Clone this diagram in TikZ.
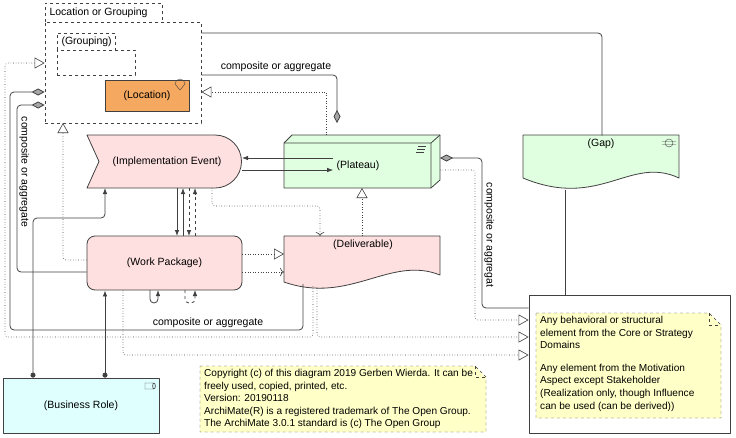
\documentclass[tikz,border=0pt]{standalone}
\usepackage{fontspec}
\setmainfont{Liberation Sans}
\usetikzlibrary{arrows.meta}
\definecolor{impl}{HTML}{FFE0E0}
\definecolor{plat}{HTML}{E0FFE0}
\definecolor{role}{HTML}{DFFFFF}
\definecolor{locc}{HTML}{F5A85F}
\definecolor{notec}{HTML}{FFFFC8}
\definecolor{linec}{HTML}{404040}
\tikzset{
  elem/.style={draw=linec, thick, font=\fontsize{10.5}{12}\selectfont},
  txt/.style={font=\fontsize{10.5}{12}\selectfont},
  real/.style={draw=linec, semithick, dotted, -{Triangle[open,length=10pt,width=11pt]}},
  comp/.style={draw=linec, thick, rounded corners=4pt, {Diamond[fill=gray!70,length=13pt,width=7pt]}-},
  trig/.style={draw=linec, thick, -{Latex[length=6pt]}},
  flow/.style={draw=linec, thick, dashed, -{Latex[length=6pt]}},
  acc/.style={draw=linec, semithick, dotted, -{To[length=4pt]}},
  assn/.style={draw=linec, thick, {Circle[length=5pt]}-{Latex[length=6pt]}},
  note/.style={draw=linec, dashed, fill=notec},
  lbl/.style={font=\fontsize{10.5}{12}\selectfont},
  ntxt/.style={font=\fontsize{10.1}{12.6}\selectfont}
}
\begin{document}
\begin{tikzpicture}[x=1pt, y=-1pt, line join=round]
\useasboundingbox (0,0) rectangle (736,437);
% grouping
\draw[linec, dashed] (45,22) -- (45,3) -- (162,3) -- (162,22);
\node[elem, dashed, minimum width=156pt, minimum height=101pt, inner sep=0pt] (grp) at (123,72.5) {};
\node[txt, anchor=west] at (46,12.5) {Location or Grouping};
\draw[linec, dashed] (57,50) -- (57,33) -- (115,33) -- (115,50);
\node[elem, dashed, minimum width=78pt, minimum height=25pt, inner sep=0pt] (sub) at (96,62.5) {};
\node[txt, anchor=west] at (58,41.5) {(Grouping)};
\node[elem, fill=locc, minimum width=84pt, minimum height=31pt, inner sep=0pt] (loc) at (147,95.5) {(Location)};
\draw[linec] (180,90) -- (175,84) arc (180:360:5) -- cycle;
% implementation event
\draw[linec, thick, fill=impl] (87,135) -- (215,135) arc (-90:90:26.5) -- (87,188) -- (99,161.5) -- cycle;
\node[txt] (ie) at (167,161.5) {(Implementation Event)};
% plateau
\draw[linec, thick, fill=plat] (284,143) -- (292,135) -- (440,135) -- (440,180) -- (431,188) -- (284,188) -- cycle;
\draw[linec, thick] (284,143) -- (431,143) -- (440,135) (431,143) -- (431,188);
\node[txt] (pl) at (358,165.5) {(Plateau)};
\draw[linec] (418,146) -- (426,146) (417,149) -- (425,149) (416,152) -- (424,152);
% gap
\draw[linec, thick, fill=plat] (523,135) -- (679,135) -- (679,178) .. controls (630,155) and (600,210) .. (523,178) -- cycle;
\node[txt] (gap) at (601,144) {(Gap)};
\draw[linec] (669,143) circle (4) (662,141.5) -- (676,141.5) (662,144.5) -- (676,144.5);
% deliverable
\draw[linec, thick, fill=impl] (284,236) -- (440,236) -- (440,275) .. controls (390,255) and (350,305) .. (284,282) -- cycle;
\node[txt] (dl) at (363,245) {(Deliverable)};
% work package
\node[elem, fill=impl, rounded corners=8pt, minimum width=155pt, minimum height=54pt] (wp) at (164.5,263) {(Work Package)};
% business role
\node[elem, fill=role, minimum width=156pt, minimum height=55pt] (br) at (81,405.5) {(Business Role)};
\draw[linec] (145,383) rectangle (154,389) (154,386) ellipse (1.5 and 3);
% notes
\draw[note] (200,366) -- (475,366) -- (486,377) -- (486,432) -- (200,432) -- cycle;
\draw[linec, dashed] (475,366) -- (475,377) -- (486,377);
\node[ntxt, anchor=north west, align=left, inner sep=0pt] (cp) at (204,369) {Copyright (c) of this diagram 2019 Gerben Wierda. It can be\\freely used, copied, printed, etc.\\Version: 20190118\\ArchiMate(R) is a registered trademark of The Open Group.\\The ArchiMate 3.0.1 standard is (c) The Open Group};
\node[elem, fill=white, minimum width=201pt, minimum height=138pt] (any) at (629.5,364) {};
\draw[note] (536,313) -- (709,313) -- (721,325) -- (721,418) -- (536,418) -- cycle;
\draw[linec, dashed] (709,313) -- (709,325) -- (721,325);
\node[ntxt, anchor=north west, align=left, inner sep=0pt] (anote) at (540,316) {Any behavioral or structural\\element from the Core or Strategy\\Domains\\[10pt]Any element from the Motivation\\Aspect except Stakeholder\\(Realization only, though Influence\\can be used (can be derived))};
% connectors
\draw[linec, thick, rounded corners=4pt] (grp.east |- 0,33) -| (gap.north -| 602,0);
\draw[comp] (337,123) |- (grp.east |- 0,75);
\node[lbl, anchor=south] at (276,75) {composite or aggregate};
\draw[real] (326,135) |- (grp.east |- 0,92);
\draw[comp] (grp.west |- 0,92) -| (10,330) -| (303,284);
\node[lbl, anchor=south] at (208,331) {composite or aggregate};
\draw[comp] (grp.west |- 0,105) -| (17,272) -- (wp.west |- 0,272);
\node[lbl, rotate=-90, anchor=south] at (16,172) {composite or aggregate};
\draw[real, rounded corners=3pt] (313,286) |- (5,337) |- (grp.west |- 0,63);
\draw[real, rounded corners=3pt] (wp.west |- 0,260) -| (63,123);
\draw[trig] (pl.west |- 0,158) -- (242,158);
\draw[trig] (242,170) -- (pl.west |- 0,170);
\draw[trig] (177,188) -- (177,236);
\draw[trig] (183,236) -- (183,188);
\draw[flow] (189,188) -- (189,236);
\draw[flow] (195,236) -- (195,188);
\draw[acc, rounded corners=3pt] (212,188) |- (320,206) -- (320,236);
\draw[real] (362,236) -- (362,188);
\draw[real] (wp.east |- 0,254) -- (284,254);
\draw[acc] (wp.east |- 0,272) -- (284,272);
\draw[trig, rounded corners=4pt] (150,290) -- (150,303) -- (158,303) -- (158,290);
\draw[flow, rounded corners=4pt] (185,290) -- (185,303) -- (195,303) -- (195,290);
\draw[comp] (440,158) -| (482,308) -- (any.west |- 0,308);
\node[lbl, rotate=-90, anchor=south] at (481,235) {composite or aggregat};
\draw[real, rounded corners=3pt] (440,170) -| (475,320) -- (any.west |- 0,320);
\draw[real, rounded corners=3pt] (317,288) |- (any.west |- 0,337);
\draw[real, rounded corners=3pt] (123,290) |- (any.west |- 0,355);
\draw[linec, thick] (565,190) -- (any.north -| 565,0);
\draw[assn, rounded corners=4pt] (br.north -| 33,0) |- (105,218) -- (105,188);
\draw[assn] (br.north -| 105,0) -- (wp.south -| 105,0);
\end{tikzpicture}
\end{document}
